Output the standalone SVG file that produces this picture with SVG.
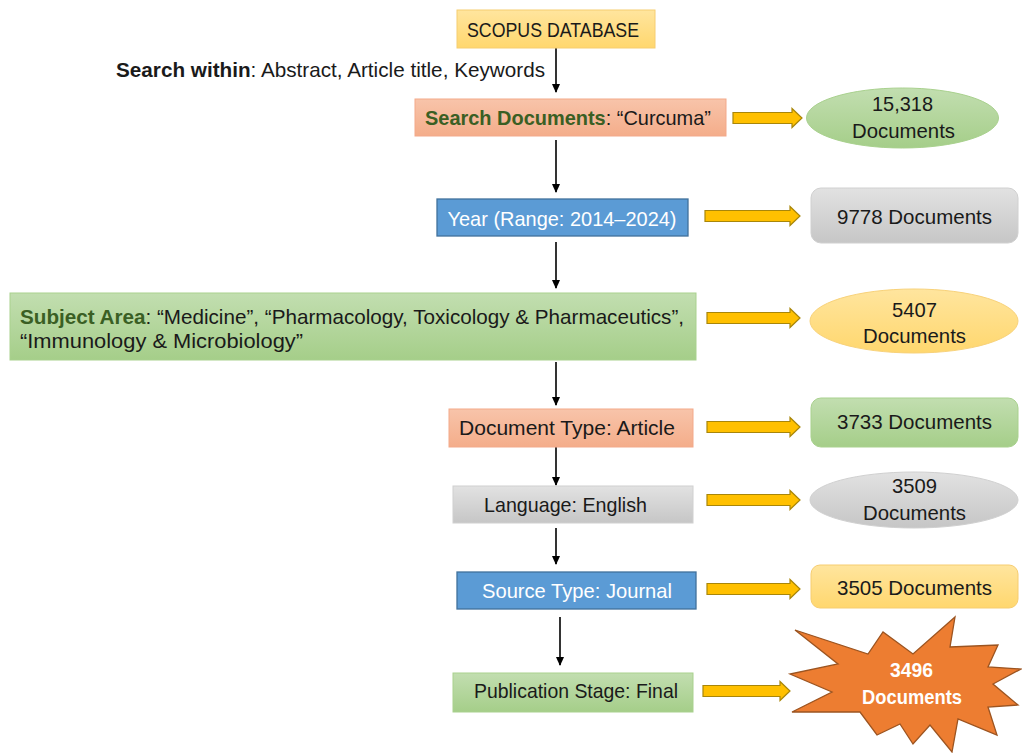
<svg xmlns="http://www.w3.org/2000/svg" width="1022" height="753" viewBox="0 0 1022 753">
<defs>
<linearGradient id="gYel" x1="0" y1="0" x2="0" y2="1"><stop offset="0" stop-color="#FFE59E"/><stop offset="1" stop-color="#FFD76E"/></linearGradient>
<linearGradient id="gSal" x1="0" y1="0" x2="0" y2="1"><stop offset="0" stop-color="#F8C4AA"/><stop offset="1" stop-color="#F4AD8A"/></linearGradient>
<linearGradient id="gGrn" x1="0" y1="0" x2="0" y2="1"><stop offset="0" stop-color="#C2DEB0"/><stop offset="1" stop-color="#A5CE89"/></linearGradient>
<linearGradient id="gGry" x1="0" y1="0" x2="0" y2="1"><stop offset="0" stop-color="#E2E2E2"/><stop offset="1" stop-color="#C6C6C6"/></linearGradient>
<marker id="ah" markerWidth="10" markerHeight="10" refX="8" refY="5" orient="auto" markerUnits="userSpaceOnUse"><path d="M0,1 L9,5 L0,9 Z" fill="#000"/></marker>
</defs>
<style>
text{font-family:"Liberation Sans",Arial,sans-serif;font-size:21px;fill:#1a1a1a}
.c{text-anchor:middle}
.b{font-weight:bold}
.dg{fill:#3A5F24;font-weight:bold}
.w{fill:#ffffff}
.yel{fill:url(#gYel);stroke:#F6CD70;stroke-width:1}
.sal{fill:url(#gSal);stroke:#F3A98A;stroke-width:1}
.grn{fill:url(#gGrn);stroke:#A9D18E;stroke-width:1}
.gry{fill:url(#gGry);stroke:#D0D0D0;stroke-width:1}
.blu{fill:#5B9BD5;stroke:#41719C;stroke-width:1.3}
.ya{fill:#FFC000;stroke:#A8860A;stroke-width:1.2}
.con line{stroke:#000;stroke-width:1.6;marker-end:url(#ah)}
</style>
<rect width="1022" height="753" fill="#ffffff"/>

<g id="connectors" class="con">
<line x1="556" y1="48" x2="556" y2="92"/>
<line x1="556" y1="140" x2="556" y2="192"/>
<line x1="556" y1="242" x2="556" y2="288"/>
<line x1="556" y1="362" x2="556" y2="405"/>
<line x1="556" y1="447" x2="556" y2="485"/>
<line x1="556" y1="528" x2="556" y2="564"/>
<line x1="560" y1="617" x2="560" y2="665"/>
</g>

<g id="yellow-arrows">
<path class="ya" d="M733,112.5 H792 V108.5 L802,118 L792,127.5 V123.5 H733 Z"/>
<path class="ya" d="M705,210.5 H790 V206.5 L800,216 L790,225.5 V221.5 H705 Z"/>
<path class="ya" d="M707,312.5 H790 V308.5 L800,318 L790,327.5 V323.5 H707 Z"/>
<path class="ya" d="M707,421.5 H790 V417.5 L800,427 L790,436.5 V432.5 H707 Z"/>
<path class="ya" d="M707,494.5 H790 V490.5 L800,500 L790,509.5 V505.5 H707 Z"/>
<path class="ya" d="M707,583.5 H790 V579.5 L800,589 L790,598.5 V594.5 H707 Z"/>
<path class="ya" d="M703,685.5 H780 V681.5 L790,691 L780,700.5 V696.5 H703 Z"/>
</g>

<g id="scopus">
<rect class="yel" x="457" y="10" width="198" height="38"/>
<text class="c" x="553" y="37" textLength="172" lengthAdjust="spacingAndGlyphs">SCOPUS DATABASE</text>
</g>

<g id="search-within">
<text x="116" y="77" textLength="429" lengthAdjust="spacingAndGlyphs"><tspan class="b">Search within</tspan>: Abstract, Article title, Keywords</text>
</g>

<g id="search-docs">
<rect class="sal" x="415" y="99" width="311" height="37"/>
<text x="425" y="125" textLength="286" lengthAdjust="spacingAndGlyphs"><tspan class="dg">Search Documents</tspan>: “Curcuma”</text>
</g>

<g id="res-15318">
<ellipse class="grn" cx="902.5" cy="118" rx="96" ry="30"/>
<text class="c" x="902.5" y="111" textLength="61" lengthAdjust="spacingAndGlyphs">15,318</text>
<text class="c" x="903.5" y="138" textLength="103" lengthAdjust="spacingAndGlyphs">Documents</text>
</g>

<g id="year">
<rect class="blu" x="437" y="199" width="251" height="37"/>
<text class="c w" x="562" y="226" textLength="229" lengthAdjust="spacingAndGlyphs">Year (Range: 2014–2024)</text>
</g>

<g id="res-9778">
<rect class="gry" x="811" y="188" width="207" height="55" rx="10"/>
<text class="c" x="914.5" y="224" textLength="155" lengthAdjust="spacingAndGlyphs">9778 Documents</text>
</g>

<g id="subject">
<rect class="grn" x="10" y="293" width="686" height="67"/>
<text x="20" y="324" textLength="664" lengthAdjust="spacingAndGlyphs"><tspan class="dg">Subject Area</tspan>: “Medicine”, “Pharmacology, Toxicology &amp; Pharmaceutics”,</text>
<text x="20" y="348" textLength="283" lengthAdjust="spacingAndGlyphs">“Immunology &amp; Microbiology”</text>
</g>

<g id="res-5407">
<ellipse cx="914" cy="321" rx="104" ry="32" fill="url(#gYel)" stroke="#F8D27A" stroke-width="1"/>
<text class="c" x="914.5" y="317" textLength="45" lengthAdjust="spacingAndGlyphs">5407</text>
<text class="c" x="914.5" y="343" textLength="103" lengthAdjust="spacingAndGlyphs">Documents</text>
</g>

<g id="doctype">
<rect class="sal" x="449" y="409" width="244" height="38"/>
<text class="c" x="567" y="435" textLength="216" lengthAdjust="spacingAndGlyphs">Document Type: Article</text>
</g>

<g id="res-3733">
<rect class="grn" x="811" y="398" width="207" height="49" rx="10"/>
<text class="c" x="914.5" y="429" textLength="155" lengthAdjust="spacingAndGlyphs">3733 Documents</text>
</g>

<g id="language">
<rect class="gry" x="453" y="486" width="240" height="37"/>
<text class="c" x="565.5" y="512" textLength="163" lengthAdjust="spacingAndGlyphs">Language: English</text>
</g>

<g id="res-3509">
<ellipse class="gry" cx="914" cy="500" rx="104" ry="28"/>
<text class="c" x="914.5" y="493" textLength="45" lengthAdjust="spacingAndGlyphs">3509</text>
<text class="c" x="914.5" y="520" textLength="103" lengthAdjust="spacingAndGlyphs">Documents</text>
</g>

<g id="source">
<rect class="blu" x="457" y="572" width="239" height="37"/>
<text class="c w" x="577" y="598" textLength="190" lengthAdjust="spacingAndGlyphs">Source Type: Journal</text>
</g>

<g id="res-3505">
<rect class="yel" x="811" y="565" width="207" height="43" rx="9"/>
<text class="c" x="914.5" y="595" textLength="155" lengthAdjust="spacingAndGlyphs">3505 Documents</text>
</g>

<g id="pubstage">
<rect class="grn" x="453" y="673" width="240" height="39"/>
<text class="c" x="576" y="698" textLength="204" lengthAdjust="spacingAndGlyphs">Publication Stage: Final</text>
</g>

<g id="res-3496">
<polygon points="955,617 950,647 998,645 988,667 1021,669 993,684 1018,705 988,707 997,735 958,719 952,752 930,725 913,744 900,724 877,735 860,712 792,712 832,692 790,674 838,664 795,630 868,654 883,632 913,654" fill="#ED7D31" stroke="#9C5420" stroke-width="1.3" stroke-linejoin="miter"/>
<text class="c w b" x="911.5" y="677" font-size="20" textLength="43" lengthAdjust="spacingAndGlyphs">3496</text>
<text class="c w b" x="912" y="704" font-size="20" textLength="100" lengthAdjust="spacingAndGlyphs">Documents</text>
</g>
</svg>
